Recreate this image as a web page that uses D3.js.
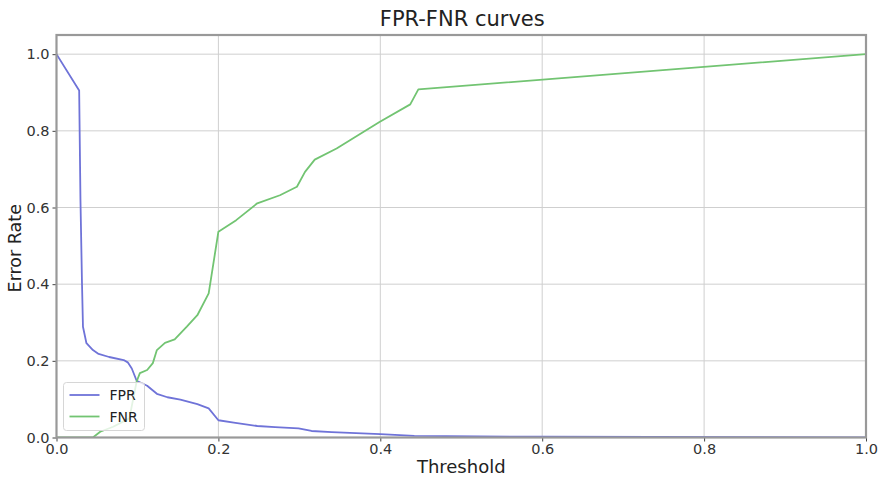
<!DOCTYPE html>
<html>
<head>
<meta charset="utf-8">
<script src="https://cdn.jsdelivr.net/npm/d3@7"></script>
<style>
  body { margin: 0; background: #fff; }
  svg { font-family: "DejaVu Sans", sans-serif; }
</style>
</head>
<body>
<svg id="chart" width="882" height="478"></svg>
<script>
// FPR-FNR curves data
const fprThreshold = [0, 0.028, 0.0296, 0.0315, 0.0327, 0.037, 0.045, 0.052, 0.065, 0.083, 0.088, 0.093, 0.099, 0.112, 0.124, 0.137, 0.153, 0.174, 0.188, 0.2, 0.219, 0.248, 0.27, 0.299, 0.315, 0.34, 0.4, 0.442, 0.6, 1.0];
const fprValues    = [1.0, 0.905, 0.62, 0.402, 0.289, 0.246, 0.228, 0.218, 0.21, 0.202, 0.196, 0.18, 0.148, 0.135, 0.114, 0.105, 0.099, 0.087, 0.076, 0.045, 0.039, 0.03, 0.027, 0.024, 0.017, 0.014, 0.009, 0.004, 0.002, 0.0];

const fnrThreshold = [0, 0.045, 0.054, 0.07, 0.09, 0.099, 0.103, 0.112, 0.119, 0.124, 0.134, 0.146, 0.161, 0.174, 0.188, 0.2, 0.222, 0.248, 0.276, 0.297, 0.307, 0.319, 0.346, 0.366, 0.399, 0.437, 0.447, 1.0];
const fnrValues    = [0, 0, 0.015, 0.028, 0.05, 0.146, 0.168, 0.176, 0.194, 0.228, 0.247, 0.256, 0.289, 0.319, 0.376, 0.537, 0.567, 0.611, 0.632, 0.654, 0.693, 0.725, 0.754, 0.78, 0.823, 0.869, 0.908, 1.0];

const xTicks = [0, 0.2, 0.4, 0.6, 0.8, 1.0];
const yTicks = [0, 0.2, 0.4, 0.6, 0.8, 1.0];
const seriesNames = ["FPR", "FNR"];
const seriesColors = ["#6f73d8", "#72c472"];

const margin = { left: 56.5, right: 16, top: 35, bottom: 40.5 };
const width = 882, height = 478;

const svg = d3.select("#chart");

const x = d3.scaleLinear().domain([0, 1]).range([margin.left, width - margin.right]);
const y = d3.scaleLinear().domain([0, 1.05]).range([height - margin.bottom, margin.top]);

// grid
svg.append("g")
    .selectAll("line")
    .data(xTicks)
    .join("line")
    .attr("x1", d => x(d)).attr("x2", d => x(d))
    .attr("y1", y(0)).attr("y2", y(1.05))
    .attr("stroke", "#cfcfcf").attr("stroke-width", 1);

svg.append("g")
    .selectAll("line")
    .data(yTicks)
    .join("line")
    .attr("y1", d => y(d)).attr("y2", d => y(d))
    .attr("x1", x(0)).attr("x2", x(1))
    .attr("stroke", "#cfcfcf").attr("stroke-width", 1);

// lines
const series = [
    fprThreshold.map((t, i) => [t, fprValues[i]]),
    fnrThreshold.map((t, i) => [t, fnrValues[i]])
];

const line = d3.line().x(d => x(d[0])).y(d => y(d[1]));

svg.append("defs").append("clipPath").attr("id", "clip")
    .append("rect")
    .attr("x", x(0)).attr("y", y(1.05))
    .attr("width", x(1) - x(0)).attr("height", y(0) - y(1.05));

svg.append("g")
    .attr("clip-path", "url(#clip)")
    .selectAll("path")
    .data(series)
    .join("path")
    .attr("d", line)
    .attr("fill", "none")
    .attr("stroke", (d, i) => seriesColors[i])
    .attr("stroke-width", 1.8)
    .attr("stroke-linejoin", "round");

// axes
const xAxis = svg.append("g")
    .attr("transform", `translate(0,${y(0)})`)
    .call(d3.axisBottom(x).tickValues(xTicks).tickFormat(d3.format(".1f")).tickSize(4).tickPadding(2));

const yAxis = svg.append("g")
    .attr("transform", `translate(${x(0)},0)`)
    .call(d3.axisLeft(y).tickValues(yTicks).tickFormat(d3.format(".1f")).tickSize(4).tickPadding(3));

[xAxis, yAxis].forEach(a => {
    a.select(".domain").remove();
    a.selectAll(".tick line").attr("stroke", "#444");
    a.selectAll(".tick text")
        .attr("fill", "#333")
        .style("font-family", "DejaVu Sans, sans-serif")
        .style("font-size", "14.5px");
});

// spines
svg.append("rect")
    .attr("x", x(0)).attr("y", y(1.05))
    .attr("width", x(1) - x(0)).attr("height", y(0) - y(1.05))
    .attr("fill", "none")
    .attr("stroke", "#999")
    .attr("stroke-width", 2.2);

// title and labels
svg.append("text")
    .attr("x", (x(0) + x(1)) / 2 + 1).attr("y", 26)
    .attr("text-anchor", "middle")
    .attr("fill", "#222")
    .style("font-size", "21px")
    .text("FPR-FNR curves");

svg.append("text")
    .attr("x", (x(0) + x(1)) / 2).attr("y", 473)
    .attr("text-anchor", "middle")
    .attr("fill", "#222")
    .style("font-size", "18px")
    .text("Threshold");

svg.append("text")
    .attr("transform", `translate(21,${(y(0) + y(1.05)) / 2 + 12}) rotate(-90)`)
    .attr("text-anchor", "middle")
    .attr("fill", "#222")
    .style("font-size", "17.5px")
    .text("Error Rate");

// legend
const legend = svg.append("g").attr("transform", "translate(63.5,382.5)");
legend.append("rect")
    .attr("width", 81).attr("height", 48)
    .attr("rx", 3)
    .attr("fill", "rgba(255,255,255,0.8)")
    .attr("stroke", "#d6d6d6");

seriesNames.forEach((name, i) => {
    const g = legend.append("g").attr("transform", `translate(0,${12.5 + i * 21.5})`);
    g.append("line")
        .attr("x1", 6).attr("x2", 36)
        .attr("stroke", seriesColors[i]).attr("stroke-width", 1.8);
    g.append("text")
        .attr("x", 46).attr("y", 5)
        .attr("fill", "#222")
        .style("font-size", "14px")
        .text(name);
});
</script>
</body>
</html>
